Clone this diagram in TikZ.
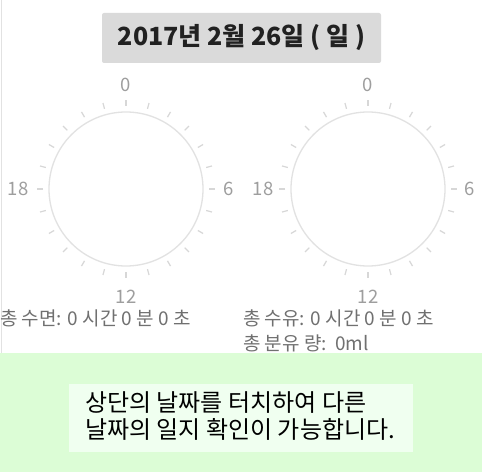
\documentclass[tikz,border=0pt]{standalone}
\usepackage{fontspec}
\setmainfont{Noto Sans CJK KR}
\definecolor{titlegray}{HTML}{DADADA}
\definecolor{dialgray}{HTML}{E2E2E2}
\definecolor{hourgray}{HTML}{9E9E9E}
\definecolor{infogray}{HTML}{707070}
\definecolor{notegreen}{HTML}{DCFDD6}
\definecolor{noteinner}{HTML}{F0FFF0}

\begin{document}
\begin{tikzpicture}[x=1pt, y=1pt,
  title/.style = {fill=titlegray, rounded corners=2pt, minimum width=279pt, minimum height=50pt, inner sep=0pt, text=black!87, font=\fontsize{25}{30}\selectfont\bfseries},
  dial/.style = {draw=dialgray, line width=1.3pt, circle, minimum size=154pt, inner sep=0pt, outer sep=0pt},
  tickmark/.style = {draw=dialgray!95!black, line width=1.2pt},
  hour/.style = {text=hourgray, inner sep=0pt, font=\fontsize{18.5}{20}\selectfont},
  info/.style = {text=infogray, inner sep=0pt, anchor=west, font=\fontsize{19}{21}\selectfont},
  note/.style = {fill=noteinner, minimum width=344pt, minimum height=68pt, inner sep=0pt}]
\useasboundingbox (0,0) rectangle (482,472);
\fill[white] (0,0) rectangle (482,472);
\draw[dialgray, line width=1pt] (1,472) -- (1,119);

\node[title] (date) at (241.5,434) {2017년 2월 26일 ( 일 )};

% sleep dial
\node[dial] (sleep) at (126,283) {};
\foreach \a in {0,15,...,345}
  \draw[tickmark] ([shift={(\a:6)}]sleep.\a) -- ([shift={(\a:12)}]sleep.\a);
\node[hour] (sleep0) at (126,387) {0};
\node[hour] (sleep6) at (229,283) {6};
\node[hour] (sleep12) at (126,175) {12};
\node[hour] (sleep18) at (18,283) {18};

% feeding dial
\node[dial] (feed) at (368,283) {};
\foreach \a in {0,15,...,345}
  \draw[tickmark] ([shift={(\a:6)}]feed.\a) -- ([shift={(\a:12)}]feed.\a);
\node[hour] (feed0) at (368,387) {0};
\node[hour] (feed6) at (470,283) {6};
\node[hour] (feed12) at (368,175) {12};
\node[hour] (feed18) at (263,283) {18};

\node[info] (sleeptotal) at (0,154) {총 수면: 0 시간 0 분 0 초};
\node[info] (feedtotal) at (243,154) {총 수유: 0 시간 0 분 0 초};
\node[info] (milk) at (243,129) {총 분유 량:\ \ 0ml};

\fill[notegreen] (0,0) rectangle (482,119);
\node[note] (hint) at (241,54) {};
\node[anchor=west, inner sep=0pt, align=left, font=\fontsize{24}{27}\selectfont] (hinttext) at (85,55.5)
  {상단의 날짜를 터치하여 다른\\날짜의 일지 확인이 가능합니다.};
\end{tikzpicture}
\end{document}
